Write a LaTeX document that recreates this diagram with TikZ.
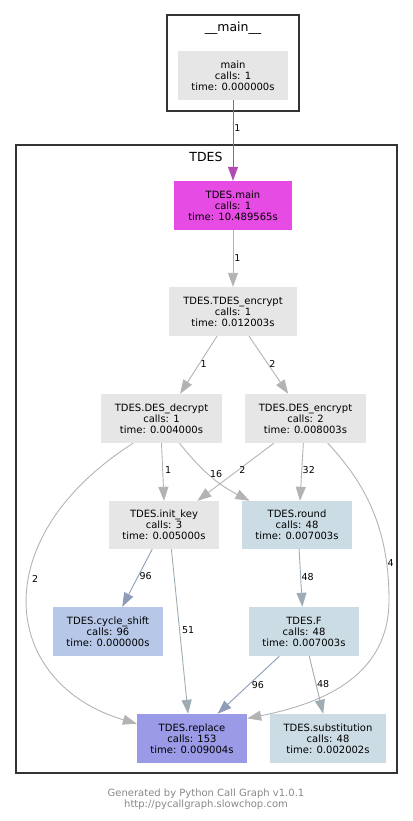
\documentclass[tikz,border=0pt]{standalone}
\usepackage{fontspec}
\setmainfont{DejaVu Sans}
\usepackage{xcolor}
\usepackage{tikz}
\usetikzlibrary{arrows.meta}

\definecolor{nodegray}{HTML}{E5E6E5}
\definecolor{mainmag}{HTML}{E64CE3}
\definecolor{steel}{HTML}{CCDCE5}
\definecolor{cyclblue}{HTML}{B6C7E7}
\definecolor{replblue}{HTML}{9A9AE6}
\definecolor{edgegray}{HTML}{B3B3B3}
\definecolor{edgepurple}{HTML}{B24CB2}
\definecolor{edgeblue}{HTML}{8E9CBA}
\definecolor{edgesteel}{HTML}{A0ACB4}
\definecolor{clusterline}{HTML}{333333}
\definecolor{footgray}{HTML}{888888}

\begin{document}
\begin{tikzpicture}[x=1pt, y=1pt,
	func/.style={fill=nodegray, minimum width=110pt, minimum height=49pt, inner sep=0pt, align=center, font=\fontsize{10}{11}\selectfont},
	cluster/.style={draw=clusterline, line width=2pt},
	title/.style={font=\fontsize{12.5}{14}\selectfont},
	call/.style={-{Triangle[length=14pt, width=10pt]}, line width=0.9pt, draw=edgegray},
	lbl/.style={font=\fontsize{9.5}{11}\selectfont, inner sep=1pt, right}]
	\useasboundingbox (0,0) rectangle (412,-821);
	\draw[cluster] (167,-15) rectangle (299,-111);
	\draw[cluster] (16,-145) rectangle (397,-773);
	\node[title] (mainT) at (233,-28) {\_\_main\_\_};
	\node[title] (tdesT) at (206,-157) {TDES};
	\node[func] (mainf) at (233,-75.5) {main\\calls: 1\\time: 0.000000s};
	\node[func, fill=mainmag, minimum width=118pt] (tmain) at (233,-205.5) {TDES.main\\calls: 1\\time: 10.489565s};
	\node[func, minimum width=128pt] (tenc) at (233,-311.5) {TDES.TDES\_encrypt\\calls: 1\\time: 0.012003s};
	\node[func, minimum width=121pt] (dec) at (161.5,-418.5) {TDES.DES\_decrypt\\calls: 1\\time: 0.004000s};
	\node[func, minimum width=121pt] (enc) at (305.5,-418.5) {TDES.DES\_encrypt\\calls: 2\\time: 0.008003s};
	\node[func, minimum height=48pt] (ikey) at (164,-525) {TDES.init\_key\\calls: 3\\time: 0.005000s};
	\node[func, fill=steel, minimum height=48pt] (rnd) at (297,-525) {TDES.round\\calls: 48\\time: 0.007003s};
	\node[func, fill=cyclblue] (cyc) at (108,-631.5) {TDES.cycle\_shift\\calls: 96\\time: 0.000000s};
	\node[func, fill=steel] (ff) at (304,-631.5) {TDES.F\\calls: 48\\time: 0.007003s};
	\node[func, fill=replblue] (repl) at (192,-738.5) {TDES.replace\\calls: 153\\time: 0.009004s};
	\node[func, fill=steel, minimum width=116pt] (subst) at (328,-738.5) {TDES.substitution\\calls: 48\\time: 0.002002s};
	\node[align=center, text=footgray, font=\fontsize{10}{11}\selectfont] (gen) at (206,-799) {Generated by Python Call Graph v1.0.1\\http://pycallgraph.slowchop.com};
	% calls
	\draw[call, draw=edgepurple] (mainf.south) -- node[lbl, pos=0.35] {1} (tmain.north);
	\draw[call] (tmain.south) -- node[lbl, pos=0.49] {1} (tenc.north);
	\draw[call] (tenc.-123) -- node[lbl, pos=0.48] {1} (dec.53);
	\draw[call] (tenc.-57) -- node[lbl, pos=0.48] {2} (enc.125.5);
	\draw[call] (dec.south) -- node[lbl, pos=0.47, inner sep=2pt] {1} (ikey.north);
	\draw[call] (dec.-54.5) to[bend right=12] node[lbl, pos=0.45, inner sep=2pt] {16} (rnd.153);
	\draw[call] (enc.-142) -- node[lbl, pos=0.47] {2} (ikey.36);
	\draw[call] (enc.-95.8) -- node[lbl, pos=0.47, inner sep=0.5pt] {32} (rnd.83);
	\draw[call] (dec.-139.3) .. controls (-18,-540) and (2,-684) .. node[lbl, pos=0.42, inner sep=2.5pt] {2} (repl.165);
	\draw[call] (enc.-48.7) .. controls (370,-488) and (389,-535) .. (389,-600) node[lbl, pos=0.8, inner sep=0.5pt] {4}
		.. controls (389,-672) and (330,-702) .. (repl.20.4);
	\draw[call, draw=edgeblue] (ikey.-116.6) -- node[lbl, pos=0.47] {96} (cyc.60.3);
	\draw[call, draw=edgesteel] (ikey.-73.7) -- node[lbl, pos=0.49, inner sep=2pt] {51} (repl.99.3);
	\draw[call, draw=edgesteel] (rnd.-85) -- node[lbl, pos=0.48, inner sep=0.5pt] {48} (ff.94.7);
	\draw[call, draw=edgeblue] (ff.-135.6) -- node[lbl, pos=0.5, inner sep=3pt] {96} (repl.44.4);
	\draw[call, draw=edgesteel] (ff.-78.5) -- node[lbl, pos=0.49, inner sep=0.5pt] {48} (subst.101.5);
\end{tikzpicture}
\end{document}
